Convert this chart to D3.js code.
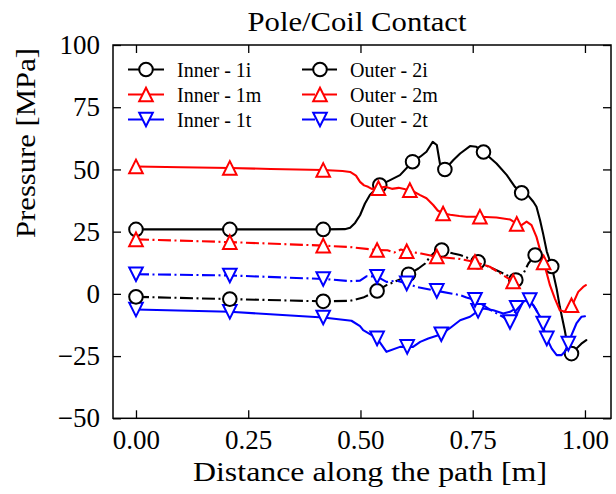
<!DOCTYPE html>
<html>
<head>
<meta charset="utf-8">
<script src="https://cdn.jsdelivr.net/npm/d3@7"></script>
<style>
  html, body { margin: 0; padding: 0; background: #fff; }
  svg { display: block; }
  text { font-family: "Liberation Serif", "DejaVu Serif", serif; fill: #000; }
</style>
</head>
<body>
<div id="chart"></div>
<script>
// ---------------- data ----------------
const title = "Pole/Coil Contact";
const xLabel = "Distance along the path [m]";
const yLabel = "Pressure [MPa]";
const xTicks = [0, 0.25, 0.5, 0.75, 1.0];
const yTicks = [-50, -25, 0, 25, 50, 75, 100];

const inner1i = [[0,25.9],[0.209,25.9],[0.417,25.9],[0.465,26.0],[0.477,26.6],[0.488,28.5],[0.499,31.6],[0.51,36.3],[0.521,39.7],[0.543,43.7],[0.566,45.7],[0.588,47.7],[0.616,53.1],[0.633,55.1],[0.647,57.1],[0.661,61.1],[0.67,59.8],[0.677,52.4],[0.688,50.0],[0.707,53.8],[0.722,56.4],[0.744,59.4],[0.758,59.1],[0.774,57.0],[0.803,52.4],[0.826,47.7],[0.844,43.0],[0.859,40.6],[0.875,39.2],[0.885,37.0],[0.892,35.0],[0.9,29.6],[0.907,24.0],[0.915,17.0],[0.926,11.0],[0.937,2.0],[0.944,-5.2],[0.955,-14.6],[0.963,-22.6],[0.97,-24.0],[0.981,-22.0],[0.992,-20.0],[1.003,-18.6]];
const inner1m = [[0,51.2],[0.1,50.9],[0.209,50.6],[0.3,50.2],[0.417,49.8],[0.46,49.4],[0.477,49.0],[0.49,47.5],[0.499,45.0],[0.508,43.6],[0.517,43.0],[0.525,42.2],[0.54,42.5],[0.555,43.0],[0.57,42.2],[0.585,42.6],[0.6,42.0],[0.61,41.7],[0.62,41.0],[0.633,39.7],[0.647,38.4],[0.662,35.7],[0.672,33.5],[0.684,32.3],[0.7,31.8],[0.72,31.3],[0.736,31.0],[0.766,31.0],[0.803,30.7],[0.833,29.9],[0.849,28.0],[0.858,27.5],[0.87,29.0],[0.881,27.6],[0.892,22.9],[0.9,17.6],[0.904,14.9],[0.911,10.9],[0.922,3.5],[0.933,-1.9],[0.944,-6.6],[0.955,-7.2],[0.962,-6.5],[0.974,-3.6],[0.985,0.8],[0.996,2.8],[1.002,3.5]];
const inner1t = [[0,-6.3],[0.209,-7.2],[0.417,-9.5],[0.48,-10.8],[0.499,-13.0],[0.506,-14.6],[0.525,-16.6],[0.537,-17.9],[0.558,-23.3],[0.588,-21.3],[0.604,-21.3],[0.617,-21.3],[0.633,-19.3],[0.651,-17.9],[0.68,-16.2],[0.699,-13.8],[0.722,-10.6],[0.744,-9.2],[0.762,-6.8],[0.774,-5.9],[0.796,-6.6],[0.818,-7.9],[0.833,-7.2],[0.848,-5.6],[0.855,-3.9],[0.87,-2.5],[0.885,-4.5],[0.9,-9.2],[0.907,-13.3],[0.915,-17.9],[0.926,-22.0],[0.937,-24.6],[0.948,-24.6],[0.955,-23.3],[0.963,-20.0],[0.97,-16.6],[0.981,-11.9],[0.992,-9.2],[1.0,-9.0]];
const outer2i = [[0,-1.2],[0.209,-2.1],[0.417,-3.0],[0.477,-2.8],[0.506,-1.5],[0.537,1.2],[0.558,3.5],[0.588,5.8],[0.607,7.9],[0.629,10.2],[0.644,12.2],[0.655,14.9],[0.668,17.2],[0.681,17.6],[0.707,16.2],[0.722,15.6],[0.762,12.9],[0.803,9.5],[0.826,7.5],[0.846,5.6],[0.863,8.2],[0.874,12.2],[0.889,15.6],[0.905,16.0]];
const outer2m = [[0,21.9],[0.209,20.8],[0.417,19.4],[0.477,18.8],[0.537,17.6],[0.56,17.5],[0.575,16.6],[0.59,17.8],[0.603,17.1],[0.635,16.2],[0.662,15.2],[0.677,14.8],[0.722,14.0],[0.755,12.8],[0.788,10.9],[0.818,7.5],[0.84,5.0]];
const outer2t = [[0,7.9],[0.209,7.4],[0.417,6.0],[0.477,5.1],[0.499,5.3],[0.514,7.1],[0.537,6.9],[0.558,4.8],[0.58,5.3],[0.603,4.2],[0.625,2.8],[0.67,1.2],[0.722,-0.5],[0.736,-1.5],[0.755,-2.4],[0.79,-6.5],[0.815,-9.0],[0.833,-11.3],[0.845,-7.0],[0.862,-3.5],[0.877,-2.5],[0.89,-6.0],[0.907,-11.9]];

const inner1iMarks = [0, 0.209, 0.417, 0.543, 0.616, 0.688, 0.774, 0.859, 0.926, 0.97];
const inner1mMarks = [0, 0.209, 0.417, 0.54, 0.61, 0.684, 0.766, 0.848, 0.908, 0.97];
const inner1tMarks = [0, 0.209, 0.417, 0.537, 0.604, 0.68, 0.762, 0.848, 0.915, 0.963];
const outer2iMarks = [0, 0.209, 0.417, 0.537, 0.607, 0.681, 0.762, 0.846, 0.889];
const outer2mMarks = [0, 0.209, 0.417, 0.537, 0.603, 0.67, 0.755, 0.84];
const outer2tMarks = [0, 0.209, 0.417, 0.537, 0.603, 0.67, 0.755, 0.833, 0.877, 0.907];

const seriesNames = ["Inner - 1i", "Inner - 1m", "Inner - 1t", "Outer - 2i", "Outer - 2m", "Outer - 2t"];
const seriesColors = ["#000000", "#ff0000", "#0000ff", "#000000", "#ff0000", "#0000ff"];
const seriesMarkers = ["circle", "up", "down", "circle", "up", "down"];
const seriesDash = [null, null, null, "13,3.5,2,3.5", "13,3.5,2,3.5", "13,3.5,2,3.5"];
const seriesData = [inner1i, inner1m, inner1t, outer2i, outer2m, outer2t];
const seriesMarks = [inner1iMarks, inner1mMarks, inner1tMarks, outer2iMarks, outer2mMarks, outer2tMarks];

// ---------------- layout ----------------
const W = 616, H = 494;
const L = 113, R = 611, T = 45, B = 418.3;

const svg = d3.select("#chart").append("svg").attr("width", W).attr("height", H);

const x = d3.scaleLinear().domain([-0.0512, 1.058]).range([L, R]);
const y = d3.scaleLinear().domain([-50, 100]).range([B, T]);

const fmtY = d => d < 0 ? "\u2212" + Math.abs(d) : String(d);

// axes
const gx = svg.append("g").attr("transform", `translate(0,${B})`)
  .call(d3.axisBottom(x).tickValues(xTicks).tickSizeInner(-8).tickSizeOuter(0).tickPadding(12).tickFormat(d3.format(".2f")));
const gxt = svg.append("g").attr("transform", `translate(0,${T})`)
  .call(d3.axisTop(x).tickValues(xTicks).tickSizeInner(-8).tickSizeOuter(0).tickFormat(""));
const gy = svg.append("g").attr("transform", `translate(${L},0)`)
  .call(d3.axisLeft(y).tickValues(yTicks).tickSizeInner(-8).tickSizeOuter(0).tickPadding(13).tickFormat(fmtY));
const gyr = svg.append("g").attr("transform", `translate(${R},0)`)
  .call(d3.axisRight(y).tickValues(yTicks).tickSizeInner(-8).tickSizeOuter(0).tickFormat(""));
[gx, gxt, gy, gyr].forEach(g => {
  g.select(".domain").remove();
  g.selectAll(".tick line").attr("stroke", "#000").attr("stroke-width", 1.3);
  g.selectAll(".tick text").style("font-family", '"Liberation Serif", serif').style("font-size", "27px").attr("fill", "#000");
});

// clip
svg.append("clipPath").attr("id", "clip").append("rect")
  .attr("x", L).attr("y", T).attr("width", R - L).attr("height", B - T);
const plot = svg.append("g").attr("clip-path", "url(#clip)");

function interpY(data, xv) {
  for (let i = 0; i < data.length - 1; i++) {
    const a = data[i], b = data[i + 1];
    if (xv >= a[0] && xv <= b[0]) {
      const t = (xv - a[0]) / (b[0] - a[0] || 1);
      return a[1] + t * (b[1] - a[1]);
    }
  }
  return data[data.length - 1][1];
}

const ms = 6.8;
function markerPath(type) {
  if (type === "up") return `M0,${-ms}L${-ms},${ms}L${ms},${ms}Z`;
  if (type === "down") return `M0,${ms}L${-ms},${-ms}L${ms},${-ms}Z`;
  return null;
}
function drawMarker(g, type, cx, cy, color) {
  if (type === "circle") {
    g.append("circle").attr("cx", cx).attr("cy", cy).attr("r", ms)
      .attr("fill", "#fff").attr("stroke", color).attr("stroke-width", 2);
  } else {
    g.append("path").attr("d", markerPath(type)).attr("transform", `translate(${cx},${cy})`)
      .attr("fill", "#fff").attr("stroke", color).attr("stroke-width", 2).attr("stroke-linejoin", "miter");
  }
}

const line = d3.line().x(d => x(d[0])).y(d => y(d[1]));

seriesData.forEach((data, i) => {
  const g = plot.append("g");
  g.append("path").attr("d", line(data)).attr("fill", "none")
    .attr("stroke", seriesColors[i]).attr("stroke-width", 2.1)
    .attr("stroke-linejoin", "round").attr("stroke-linecap", seriesDash[i] ? "butt" : "round")
    .attr("stroke-dasharray", seriesDash[i]);
  seriesMarks[i].forEach(mx => drawMarker(g, seriesMarkers[i], x(mx), y(interpY(data, mx)), seriesColors[i]));
});

// frame
svg.append("rect").attr("x", L).attr("y", T).attr("width", R - L).attr("height", B - T)
  .attr("fill", "none").attr("stroke", "#000").attr("stroke-width", 1.5);

// legend
const legCols = [{x0: 128, x1: 164, tx: 177}, {x0: 302, x1: 338, tx: 350}];
const legRows = [69.5, 94.5, 119.5];
seriesNames.forEach((name, i) => {
  const c = legCols[Math.floor(i / 3)], ry = legRows[i % 3];
  const g = svg.append("g");
  g.append("line").attr("x1", c.x0).attr("x2", c.x1).attr("y1", ry).attr("y2", ry)
    .attr("stroke", seriesColors[i]).attr("stroke-width", 2.1).attr("stroke-dasharray", seriesDash[i]);
  drawMarker(g, seriesMarkers[i], (c.x0 + c.x1) / 2, ry, seriesColors[i]);
  g.append("text").attr("x", c.tx).attr("y", ry + 7).style("font-size", "20px").text(name);
});

// titles
svg.append("text").attr("x", 357).attr("y", 31).attr("text-anchor", "middle")
  .style("font-size", "27px").attr("textLength", 219).attr("lengthAdjust", "spacingAndGlyphs").text(title);
svg.append("text").attr("x", 370).attr("y", 481).attr("text-anchor", "middle")
  .style("font-size", "27px").attr("textLength", 354).attr("lengthAdjust", "spacingAndGlyphs").text(xLabel);
svg.append("text").attr("transform", "translate(35,143) rotate(-90)").attr("text-anchor", "middle")
  .style("font-size", "27px").attr("textLength", 190).attr("lengthAdjust", "spacingAndGlyphs").text(yLabel);
</script>
</body>
</html>
